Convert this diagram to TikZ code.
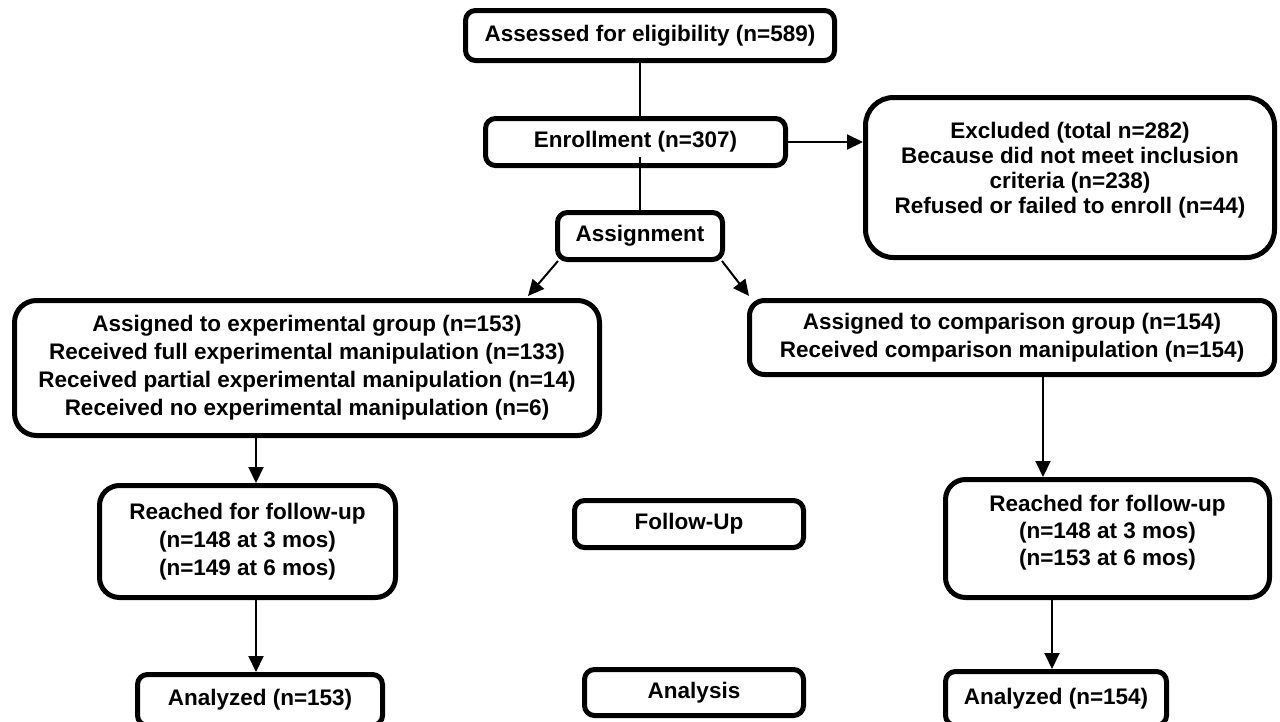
\documentclass[tikz,border=0pt]{standalone}
\usepackage{fontspec}
\setmainfont{Liberation Sans}
\usetikzlibrary{arrows.meta}
\begin{document}
\begin{tikzpicture}[x=1pt,y=-1pt,
  box/.style={draw=black, line width=5pt, rounded corners=10pt, fill=white,
    align=center, inner sep=0pt, font=\fontsize{22.5}{28}\selectfont\bfseries},
  txt/.style={align=center, inner sep=0pt, font=\fontsize{22.5}{25}\selectfont\bfseries},
  conn/.style={line width=2pt},
  arr/.style={line width=2pt, -{Triangle[length=16pt,width=15pt]}}]
\clip (0,0) rectangle (1280,721);
\fill[white] (0,0) rectangle (1280,721);

% boxes
\node[box, minimum width=369pt, minimum height=50pt] (assess) at (650,35.5) {Assessed for eligibility (n=589)};
\node[box, minimum width=300pt, minimum height=47pt] (enroll) at (635.5,142) {Enrollment (n=307)};
\node[box, minimum width=165pt, minimum height=47pt] (assign) at (640,236) {Assignment};
\node[box, rounded corners=28pt, minimum width=409pt, minimum height=160pt] (excl) at (1070,177.5) {};
\node[txt] (excltxt) at (1070,170.5) {Excluded (total n=282)\\Because did not meet inclusion\\criteria (n=238)\\Refused or failed to enroll (n=44)};
\node[box, rounded corners=22pt, minimum width=585pt, minimum height=135pt] (exper) at (307,368) {Assigned to experimental group (n=153)\\Received full experimental manipulation (n=133)\\Received partial experimental manipulation (n=14)\\Received no experimental manipulation (n=6)};
\node[box, rounded corners=15pt, minimum width=525pt, minimum height=74pt] (compar) at (1012,337.5) {Assigned to comparison group (n=154)\\Received comparison manipulation (n=154)};
\node[box, rounded corners=20pt, minimum width=296pt, minimum height=112pt] (reachL) at (247.5,541.5) {Reached for follow-up\\(n=148 at 3 mos)\\(n=149 at 6 mos)};
\node[box, minimum width=229pt, minimum height=47pt] (follow) at (689,524) {Follow-Up};
\node[box, rounded corners=20pt, minimum width=324pt, minimum height=118pt] (reachR) at (1107.5,538.5) {};
\node[txt, font=\fontsize{22.5}{27}\selectfont\bfseries] (reachRtxt) at (1107.5,533) {Reached for follow-up\\(n=148 at 3 mos)\\(n=153 at 6 mos)};
\node[box, minimum width=245pt, minimum height=51pt] (analL) at (260,700) {Analyzed (n=153)};
\node[box, minimum width=219pt, minimum height=46pt] (anal) at (694,692.5) {Analysis};
\node[box, minimum width=221pt, minimum height=54pt] (analR) at (1056,698.5) {Analyzed (n=154)};

\coordinate (colL) at (256,0);
\coordinate (colR) at (1043,0);
\coordinate (colR2) at (1052,0);

% connectors
\draw[conn] (assess.south -| assign.north) -- (enroll.north -| assign.north);
\draw[conn] ([yshift=11pt]enroll.south -| assign.north) -- (assign.north);
\draw[arr] (enroll.east) -- (enroll.east -| excl.west);
\draw[arr] ([xshift=3pt,yshift=1pt]assign.south west) -- ([xshift=-74pt,yshift=2pt]exper.north east);
\draw[arr] ([xshift=-3pt,yshift=1pt]assign.south east) -- ([xshift=2pt,yshift=2pt]compar.north west);
\draw[arr] (exper.south -| colL) -- (reachL.north -| colL);
\draw[arr] (reachL.south -| colL) -- (analL.north -| colL);
\draw[arr] (compar.south -| colR) -- (reachR.north -| colR);
\draw[arr] (reachR.south -| colR2) -- (analR.north -| colR2);
\end{tikzpicture}
\end{document}
